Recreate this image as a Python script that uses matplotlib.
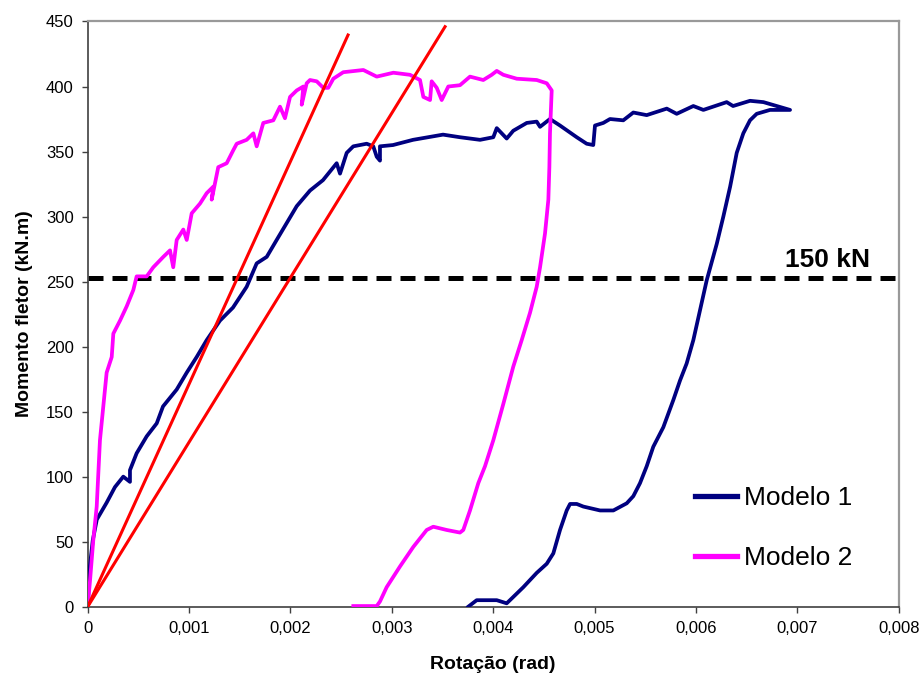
import matplotlib
matplotlib.use('Agg')
import matplotlib.pyplot as plt

plt.rcParams['font.family'] = ['Liberation Sans', 'DejaVu Sans']

# ---------------- dados (rotação em rad, momento em kN.m) ----------------
m1_rot = [0.0, 0.00002, 0.00005, 0.00009, 0.000187, 0.000269, 0.000351, 0.000417, 0.000417,
          0.000483, 0.000582, 0.000681, 0.000743, 0.000878, 0.000977, 0.001075, 0.001174,
          0.001305, 0.001433, 0.001568, 0.001667, 0.001766, 0.001864, 0.001963, 0.002062,
          0.002193, 0.002321, 0.002456, 0.002489, 0.002555, 0.002620, 0.002752, 0.002817,
          0.002851, 0.002883, 0.002883, 0.003012, 0.003209, 0.003505, 0.003672, 0.003870,
          0.004001, 0.004035, 0.004133, 0.004198, 0.004331, 0.004429, 0.004462, 0.004560,
          0.004659, 0.004824, 0.004922, 0.004987, 0.005004, 0.005086, 0.005152, 0.005283,
          0.005382, 0.005514, 0.005712, 0.005810, 0.005974, 0.006073, 0.006303, 0.006366,
          0.006533, 0.006665, 0.006928, 0.006730, 0.006599, 0.006533, 0.006467, 0.006402,
          0.006337, 0.006270, 0.006205, 0.006106, 0.006040, 0.005974, 0.005908, 0.005843,
          0.005777, 0.005678, 0.005579, 0.005514, 0.005448, 0.005382, 0.005317, 0.005185,
          0.005054, 0.004889, 0.004824, 0.004758, 0.004725, 0.004659, 0.004593, 0.004528,
          0.004429, 0.004297, 0.004165, 0.004133, 0.004035, 0.003837, 0.003754]
m1_mom = [0, 30, 51, 67, 80, 92, 100, 96, 105,
          118, 131, 141, 154, 167, 180, 192, 205,
          220, 230, 246, 264, 269, 282, 295, 308,
          320, 328, 341, 333, 349, 354, 356, 354,
          346, 343, 354, 355, 359, 363, 361, 359,
          361, 368, 360, 366, 372, 373, 369, 375,
          370, 361, 356, 355, 370, 372, 375, 374,
          380, 378, 383, 379, 385, 382, 388, 385,
          389, 388, 382, 382, 379, 374, 364, 349,
          323, 300, 279, 251, 228, 205, 187, 174,
          159, 138, 123, 108, 95, 85, 79.5, 74,
          74, 77, 79, 79, 74, 59, 41, 33,
          26, 15, 5, 2.6, 5, 5, 0]

m2_rot = [0.0, 0.000023, 0.000055, 0.000089, 0.000121, 0.000154, 0.000187, 0.000237, 0.000253,
          0.000319, 0.000385, 0.000450, 0.000483, 0.000582, 0.000647, 0.000746, 0.000812,
          0.000844, 0.000878, 0.000943, 0.000977, 0.001026, 0.001108, 0.001174, 0.001239,
          0.001223, 0.001288, 0.001371, 0.001436, 0.001470, 0.001568, 0.001634, 0.001667,
          0.001732, 0.001831, 0.001897, 0.001946, 0.001996, 0.002062, 0.002127, 0.002111,
          0.002160, 0.002193, 0.002259, 0.002324, 0.002373, 0.002423, 0.002521, 0.002719,
          0.002851, 0.003015, 0.003179, 0.003278, 0.003311, 0.003377, 0.003393, 0.003443,
          0.003492, 0.003557, 0.003672, 0.003771, 0.003902, 0.003985, 0.004035, 0.004100,
          0.004232, 0.004429, 0.004528, 0.004577, 0.004560, 0.004554, 0.004544, 0.004511,
          0.004462, 0.004429, 0.004363, 0.004281, 0.004198, 0.004100, 0.004001, 0.003919,
          0.003853, 0.003771, 0.003705, 0.003672, 0.003541, 0.003409, 0.003344, 0.003212,
          0.003081, 0.002949, 0.002883, 0.002851, 0.002620]
m2_mom = [0, 20, 51, 77, 128, 154, 180, 192, 210,
          220, 231, 243.5, 254, 254, 261, 269, 274,
          261, 282, 290, 282, 302.5, 310, 318, 323,
          313, 338, 341, 351, 356, 359, 364, 354,
          372, 374, 384.5, 375.6, 392, 397, 400, 386,
          402.5, 405, 404, 399, 399, 406, 411, 412.7,
          407.6, 410.6, 409, 405, 392, 389.6, 404, 399,
          389.6, 400, 401, 407.6, 405, 409, 412, 409,
          406, 405, 402.5, 397, 364, 338, 313, 287,
          261, 246, 226, 205, 184.6, 156, 128, 108,
          95, 74, 59, 57, 59, 61.5, 59, 46,
          31, 15, 4, 0.5, 0.5]

# retas de rigidez inicial
reta1_rot = [0.0, 0.002568]
reta1_mom = [0.0, 439.6]
reta2_rot = [0.0, 0.003525]
reta2_mom = [0.0, 446.0]

nivel_150kN = 253

x_ticks = [0, 0.001, 0.002, 0.003, 0.004, 0.005, 0.006, 0.007, 0.008]
x_tick_labels = ['0', '0,001', '0,002', '0,003', '0,004', '0,005', '0,006', '0,007', '0,008']
y_ticks = [0, 50, 100, 150, 200, 250, 300, 350, 400, 450]

NAVY = '#000080'
MAGENTA = '#FF00FF'

fig = plt.figure(figsize=(9.23, 6.8), dpi=100)
ax = fig.add_axes([0.0950, 0.1078, 0.8787, 0.8606])

ax.axhline(nivel_150kN, color='black', lw=3.6, dashes=(3, 1.8), zorder=2)
ax.plot(reta1_rot, reta1_mom, color='red', lw=2.2, zorder=4)
ax.plot(reta2_rot, reta2_mom, color='red', lw=2.2, zorder=4)
ax.plot(m1_rot, m1_mom, color=NAVY, lw=2.7, label='Modelo 1', zorder=3,
        solid_joinstyle='round')
ax.plot(m2_rot, m2_mom, color=MAGENTA, lw=2.7, label='Modelo 2', zorder=3,
        solid_joinstyle='round')

ax.text(0.006878, 261, '150 kN', fontsize=19, fontweight='bold', va='baseline', ha='left')

ax.set_xlim(0, 0.008)
ax.set_ylim(0, 450)
ax.set_xticks(x_ticks)
ax.set_xticklabels(x_tick_labels)
ax.set_yticks(y_ticks)
ax.tick_params(direction='out', length=4, width=1, color='#404040', labelsize=12, pad=6)

for side in ['left', 'bottom']:
    ax.spines[side].set_color('#404040')
    ax.spines[side].set_linewidth(1.2)
for side in ['top', 'right']:
    ax.spines[side].set_color('#999999')
    ax.spines[side].set_linewidth(1.6)

ax.set_xlabel('Rotação (rad)', fontsize=14, fontweight='bold')
ax.set_ylabel('Momento fletor (kN.m)', fontsize=14, fontweight='bold')
ax.xaxis.set_label_coords(0.5, -0.085)
ax.yaxis.set_label_coords(-0.067, 0.5)

leg = ax.legend(loc='center left', bbox_to_anchor=(0.749, 0.1345), frameon=False,
                fontsize=19, handlelength=1.6, handletextpad=0.25, labelspacing=1.35,
                borderpad=0, borderaxespad=0)
for line in leg.get_lines():
    line.set_linewidth(3.8)

plt.savefig('out.png', dpi=100)
